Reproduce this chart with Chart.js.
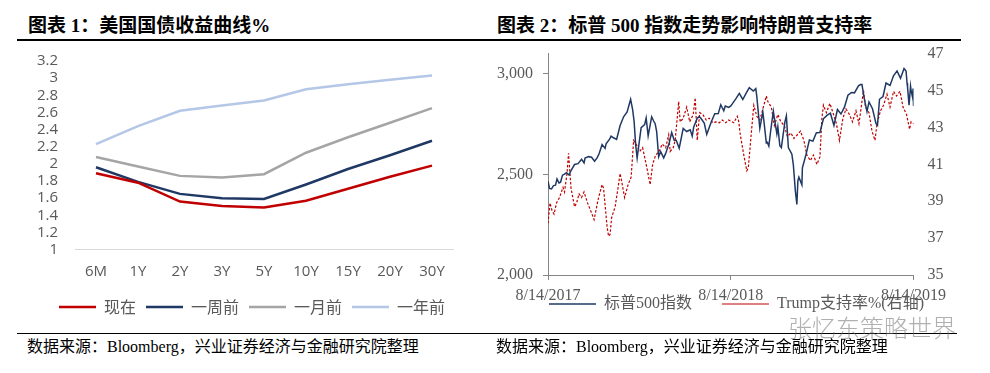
<!DOCTYPE html>
<html><head><meta charset="utf-8">
<script src="https://cdn.jsdelivr.net/npm/chart.js@4.4.1/dist/chart.umd.min.js"></script>
<style>
html,body{margin:0;padding:0;background:#fff;width:990px;height:373px;overflow:hidden;}
body{position:relative;}
.title{position:absolute;top:16px;font-family:"Liberation Serif","Noto Sans CJK SC",serif;font-weight:700;font-size:19px;line-height:20px;color:#000;white-space:nowrap;}
.rule{position:absolute;background:#000;}
.src{position:absolute;top:338px;font-family:"Liberation Serif","Noto Sans CJK SC",serif;font-size:16px;line-height:18px;color:#000;white-space:nowrap;}
.wm{position:absolute;left:788px;top:313px;font-family:"Noto Sans CJK SC",sans-serif;font-size:24px;line-height:28px;color:rgba(110,110,110,0.55);white-space:nowrap;font-weight:300;}
canvas{position:absolute;}
</style>
</head><body>
<div class="title" style="left:28px;">图表 1：美国国债收益曲线%</div>
<div class="title" style="left:497px;">图表 2：标普 500 指数走势影响特朗普支持率</div>
<div class="rule" style="left:17px;top:39px;width:944px;height:1.5px;"></div>
<canvas id="c1" width="495" height="285" style="left:0;top:45px;"></canvas>
<canvas id="c2" width="457" height="331" style="left:495px;top:30px;"></canvas>
<div class="rule" style="left:17px;top:333px;width:940px;height:1.3px;"></div>
<div class="src" style="left:27px;">数据来源：Bloomberg，兴业证券经济与金融研究院整理</div>
<div class="src" style="left:496px;">数据来源：Bloomberg，兴业证券经济与金融研究院整理</div>
<div class="wm">张忆东策略世界</div>
<script>
// ---------- Chart 1 data ----------
const tenors = ['6M','1Y','2Y','3Y','5Y','10Y','15Y','20Y','30Y'];
const yieldNow      = [1.89,1.78,1.56,1.51,1.49,1.57,1.71,1.85,1.98];
const yieldWeekAgo  = [1.96,1.79,1.65,1.60,1.59,1.76,1.94,2.10,2.27];
const yieldMonthAgo = [2.08,1.97,1.86,1.84,1.88,2.13,2.31,2.48,2.65];
const yieldYearAgo  = [2.23,2.44,2.62,2.68,2.74,2.87,2.93,2.98,3.03];
const seriesNames1 = ['现在','一周前','一月前','一年前'];

// ---------- Chart 2 data ----------
const spxDates = ['2017-08-14','2017-08-17','2017-08-21','2017-08-25','2017-08-29','2017-09-01','2017-09-05','2017-09-08','2017-09-12','2017-09-15','2017-09-20','2017-09-25','2017-09-29','2017-10-06','2017-10-13','2017-10-20','2017-10-25','2017-10-27','2017-11-03','2017-11-09','2017-11-15','2017-11-20','2017-11-24','2017-11-30','2017-12-06','2017-12-08','2017-12-15','2017-12-18','2017-12-22','2017-12-29','2018-01-05','2018-01-12','2018-01-19','2018-01-26','2018-01-30','2018-02-02','2018-02-05','2018-02-08','2018-02-12','2018-02-16','2018-02-23','2018-02-26','2018-03-02','2018-03-09','2018-03-13','2018-03-16','2018-03-19','2018-03-23','2018-03-27','2018-04-02','2018-04-06','2018-04-13','2018-04-18','2018-04-23','2018-04-27','2018-05-03','2018-05-11','2018-05-18','2018-05-25','2018-05-29','2018-06-01','2018-06-08','2018-06-12','2018-06-15','2018-06-22','2018-06-27','2018-07-06','2018-07-13','2018-07-20','2018-07-25','2018-07-31','2018-08-03','2018-08-10','2018-08-14','2018-08-17','2018-08-24','2018-08-31','2018-09-07','2018-09-14','2018-09-20','2018-09-28','2018-10-03','2018-10-05','2018-10-11','2018-10-17','2018-10-19','2018-10-24','2018-10-26','2018-10-29','2018-11-02','2018-11-07','2018-11-09','2018-11-14','2018-11-16','2018-11-20','2018-11-23','2018-11-30','2018-12-03','2018-12-07','2018-12-14','2018-12-17','2018-12-21','2018-12-24','2018-12-26','2018-12-28','2019-01-03','2019-01-04','2019-01-11','2019-01-18','2019-01-25','2019-02-01','2019-02-08','2019-02-15','2019-02-22','2019-03-01','2019-03-08','2019-03-15','2019-03-22','2019-03-29','2019-04-05','2019-04-12','2019-04-18','2019-04-26','2019-04-30','2019-05-03','2019-05-07','2019-05-13','2019-05-17','2019-05-24','2019-05-31','2019-06-03','2019-06-07','2019-06-14','2019-06-20','2019-06-28','2019-07-05','2019-07-12','2019-07-19','2019-07-26','2019-07-30','2019-08-01','2019-08-02','2019-08-05','2019-08-08','2019-08-09','2019-08-12','2019-08-13','2019-08-14'];
const spxValues = [2466,2430,2428,2444,2446,2477,2457,2461,2496,2500,2508,2497,2519,2549,2553,2575,2557,2581,2588,2585,2565,2582,2602,2648,2629,2652,2675,2690,2683,2674,2743,2786,2810,2873,2822,2762,2649,2581,2656,2732,2747,2780,2691,2786,2765,2752,2712,2588,2613,2582,2604,2656,2708,2670,2670,2630,2728,2713,2721,2690,2735,2779,2787,2780,2755,2699,2760,2801,2802,2846,2816,2840,2833,2840,2850,2875,2902,2872,2905,2931,2914,2926,2886,2729,2810,2768,2656,2659,2641,2723,2814,2781,2702,2736,2642,2633,2760,2790,2633,2600,2546,2417,2351,2468,2486,2448,2532,2596,2671,2665,2707,2708,2776,2793,2804,2743,2822,2800,2834,2893,2907,2905,2940,2946,2946,2884,2812,2860,2826,2752,2744,2873,2887,2954,2942,2990,3014,2977,3026,3013,2954,2932,2844,2938,2919,2883,2926,2840];
const trumpDates = ['2017-08-14','2017-08-18','2017-08-22','2017-08-26','2017-08-31','2017-09-06','2017-09-13','2017-09-16','2017-09-21','2017-09-24','2017-09-29','2017-10-06','2017-10-10','2017-10-15','2017-10-20','2017-10-25','2017-11-01','2017-11-07','2017-11-14','2017-11-17','2017-11-23','2017-11-30','2017-12-03','2017-12-10','2017-12-13','2017-12-16','2017-12-19','2017-12-26','2018-01-01','2018-01-05','2018-01-08','2018-01-14','2018-01-21','2018-01-27','2018-02-01','2018-02-06','2018-02-13','2018-02-19','2018-02-26','2018-03-06','2018-03-11','2018-03-17','2018-03-24','2018-03-30','2018-04-06','2018-04-12','2018-04-15','2018-04-21','2018-04-25','2018-05-02','2018-05-05','2018-05-11','2018-05-18','2018-05-24','2018-05-31','2018-06-04','2018-06-08','2018-06-13','2018-06-19','2018-06-26','2018-07-02','2018-07-09','2018-07-15','2018-07-22','2018-07-28','2018-08-04','2018-08-10','2018-08-20','2018-08-27','2018-08-30','2018-09-02','2018-09-09','2018-09-15','2018-09-18','2018-09-25','2018-09-29','2018-10-05','2018-10-11','2018-10-18','2018-10-24','2018-10-27','2018-11-03','2018-11-09','2018-11-16','2018-11-22','2018-11-29','2018-12-05','2018-12-12','2018-12-18','2018-12-25','2018-12-31','2019-01-07','2019-01-13','2019-01-20','2019-01-26','2019-02-02','2019-02-08','2019-02-12','2019-02-15','2019-02-21','2019-02-28','2019-03-06','2019-03-13','2019-03-19','2019-03-26','2019-04-01','2019-04-08','2019-04-14','2019-04-21','2019-04-27','2019-05-01','2019-05-06','2019-05-10','2019-05-17','2019-05-23','2019-05-29','2019-06-02','2019-06-09','2019-06-15','2019-06-22','2019-06-28','2019-07-05','2019-07-11','2019-07-18','2019-07-24','2019-07-31','2019-08-06','2019-08-09','2019-08-14'];
const trumpValues = [37.8,38.9,38.5,38.3,38.9,39.2,39.75,39.5,40.5,41.6,39.7,38.7,38.9,39.4,39.2,39.5,38.9,38.5,38.0,38.4,39.2,39.9,39.7,37.6,37.1,37.2,38.1,38.7,39.75,40.5,40.1,39.2,39.9,40.3,42.3,42.1,41.7,41.9,41.0,39.9,41.0,41.5,41.7,42.1,41.9,42.6,41.7,41.9,42.3,44.4,43.3,43.5,44.1,43.3,43.7,44.6,42.3,43.8,43.7,43.4,43.5,43.25,43.3,43.25,43.4,43.25,43.4,43.25,43.6,43.3,42.6,41.5,40.65,40.8,43.0,44.2,43.6,43.4,44.1,44.7,44.4,44.1,43.1,43.7,43.3,43.1,42.5,42.7,42.4,42.6,42.8,42.3,41.5,41.2,41.5,41.0,41.4,43.5,44.2,43.8,44.3,43.8,43.2,42.3,43.5,44.0,43.7,43.3,43.9,43.2,44.0,45.0,44.1,43.8,42.8,42.3,43.2,43.9,44.2,44.8,44.1,44.95,44.7,44.95,44.1,43.7,42.9,43.3,43.2];
const xTickDates = ['2017-08-14','2018-08-14','2019-08-14'];
const xTickLabels = ['8/14/2017','8/14/2018','8/14/2019'];
const leftTicks = [2000,2500,3000];
const seriesNames2 = ['标普500指数','Trump支持率%(右轴)'];

// ---------- helpers ----------
const BASE = Date.UTC(2017,7,14);
function dayOf(s){const p=s.split('-').map(Number);return (Date.UTC(p[0],p[1]-1,p[2])-BASE)/86400000;}
const xTickDays = xTickDates.map(dayOf);
const GRAY = '#595959';
function legendMover(dx, targetTop){
  return {
    id:'legendMover',
    afterLayout(chart){
      const l = chart.legend; if(!l) return;
      if (targetTop !== null){ const dy = targetTop - l.top; l.top += dy; l.bottom += dy; }
      l.left += dx; l.right += dx;
    }
  };
}

// ---------- Chart 1 ----------
new Chart(document.getElementById('c1'), {
  type:'line',
  data:{
    labels:tenors,
    datasets:[
      {label:seriesNames1[0],data:yieldNow,borderColor:'#C00000',backgroundColor:'#C00000',borderWidth:2.5},
      {label:seriesNames1[1],data:yieldWeekAgo,borderColor:'#203864',backgroundColor:'#203864',borderWidth:2.5},
      {label:seriesNames1[2],data:yieldMonthAgo,borderColor:'#A5A5A5',backgroundColor:'#A5A5A5',borderWidth:2.5},
      {label:seriesNames1[3],data:yieldYearAgo,borderColor:'#B4C7E7',backgroundColor:'#B4C7E7',borderWidth:2.5}
    ]
  },
  options:{
    responsive:false,animation:false,devicePixelRatio:1,
    elements:{point:{radius:0,hoverRadius:0},line:{tension:0}},
    layout:{autoPadding:false,padding:{left:0,right:42,top:16,bottom:5}},
    scales:{
      x:{offset:true,grid:{display:false,drawTicks:false},border:{display:true,color:'#D9D9D9',width:1},
         ticks:{padding:13,color:GRAY,font:{family:'Open Sans',size:15},maxRotation:0,autoSkip:false},
         afterFit(s){s.height=39.4;}},
      y:{min:1,max:3.2,
         grid:{display:true,drawOnChartArea:false,drawTicks:true,tickLength:17,color:'rgba(0,0,0,0)'},
         border:{display:false},
         ticks:{stepSize:0.2,autoSkip:false,padding:0,color:GRAY,font:{family:'Open Sans',size:15},
                callback:v=>String(Math.round(v*10)/10)},
         afterFit(s){s.width=75;}}
    },
    plugins:{
      legend:{position:'bottom',labels:{usePointStyle:true,pointStyle:'line',pointStyleWidth:37,padding:10,color:GRAY,
              font:{family:'Noto Sans CJK SC',size:16}}},
      tooltip:{enabled:false}
    }
  },
  plugins:[legendMover(25.5,null)]
});

// ---------- Chart 2 ----------
new Chart(document.getElementById('c2'), {
  type:'line',
  data:{
    datasets:[
      {label:seriesNames2[0],data:spxDates.map((d,i)=>({x:dayOf(d),y:spxValues[i]})),yAxisID:'y',
       borderColor:'#1F3864',backgroundColor:'#1F3864',borderWidth:1.5},
      {label:seriesNames2[1],data:trumpDates.map((d,i)=>({x:dayOf(d),y:trumpValues[i]})),yAxisID:'y2',
       borderColor:'#C00000',backgroundColor:'#C00000',borderWidth:1.2,borderDash:[2.5,1.8]}
    ]
  },
  options:{
    responsive:false,animation:false,devicePixelRatio:1,locale:'en-US',
    elements:{point:{radius:0,hoverRadius:0},line:{tension:0}},
    layout:{autoPadding:false,padding:{left:0,right:0,top:22,bottom:0}},
    scales:{
      x:{type:'linear',min:xTickDays[0],max:xTickDays[2],
         afterBuildTicks(s){s.ticks=xTickDays.map(v=>({value:v}));},
         grid:{display:true,drawOnChartArea:false,drawTicks:true,tickLength:5,color:'#868686'},
         border:{display:true,color:'#868686',width:1},
         ticks:{padding:6,maxRotation:0,autoSkip:false,color:GRAY,font:{family:'Liberation Serif',size:16},
                callback:v=>{const i=xTickDays.indexOf(v);return i>=0?xTickLabels[i]:'';}},
         afterFit(s){s.height=30;}},
      y:{position:'left',min:2000,max:3100,
         afterBuildTicks(s){s.ticks=leftTicks.map(v=>({value:v}));},
         grid:{display:true,drawOnChartArea:false,drawTicks:true,tickLength:5,color:'#868686'},
         border:{display:true,color:'#868686',width:1},
         ticks:{padding:10,autoSkip:false,color:GRAY,font:{family:'Liberation Serif',size:16},
                callback:v=>v.toLocaleString('en-US')},
         afterFit(s){s.width=53;}},
      y2:{position:'right',min:35,max:47,
         grid:{display:false,drawTicks:false},border:{display:false},
         ticks:{stepSize:2,autoSkip:false,padding:14,color:GRAY,font:{family:'Liberation Serif',size:16}},
         afterFit(s){s.width=30;}}
    },
    plugins:{
      legend:{position:'bottom',labels:{usePointStyle:true,pointStyle:'line',pointStyleWidth:47,padding:30,color:GRAY,
              font:{family:"'Liberation Serif','Noto Sans CJK SC'",size:16}}},
      tooltip:{enabled:false}
    }
  },
  plugins:[legendMover(13,236)]
});
</script>
</body></html>
